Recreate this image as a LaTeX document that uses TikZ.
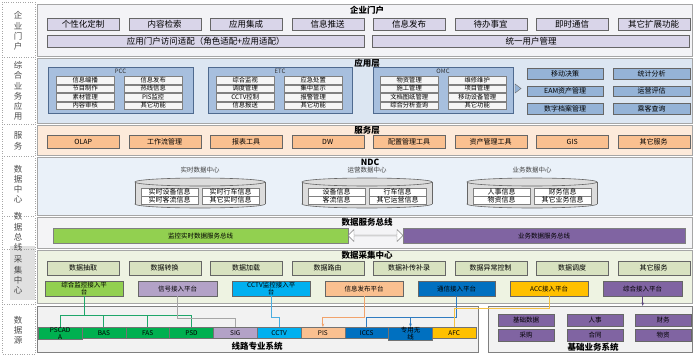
\documentclass[tikz,border=0pt]{standalone}
\usepackage{fontspec}
\setmainfont{Noto Sans CJK SC}
\usetikzlibrary{arrows.meta, positioning, shapes.arrows}

\definecolor{portalband}{HTML}{F3F3F6}
\definecolor{portalbtn}{HTML}{D9D5E9}
\definecolor{appband}{HTML}{DCE6F2}
\definecolor{groupfill}{HTML}{A7BFDE}
\definecolor{groupdraw}{HTML}{4F6A8F}
\definecolor{appbtn}{HTML}{95B3D7}
\definecolor{srvband}{HTML}{FDEADA}
\definecolor{srvbtn}{HTML}{FAC090}
\definecolor{dcband}{HTML}{EAF1F9}
\definecolor{cylfill}{HTML}{DCDCDC}
\definecolor{busband}{HTML}{F4F4F6}
\definecolor{busgreen}{HTML}{92D050}
\definecolor{buspurple}{HTML}{8064A2}
\definecolor{colband}{HTML}{EEF3E2}
\definecolor{colbtn}{HTML}{D8E2C0}
\definecolor{srcband}{HTML}{F2F2F2}
\definecolor{pfgreen}{HTML}{92D050}
\definecolor{pflav}{HTML}{B3A2C7}
\definecolor{pfcyan}{HTML}{00B0F0}
\definecolor{pfpeach}{HTML}{FAC090}
\definecolor{pfblue}{HTML}{0070C0}
\definecolor{pfgold}{HTML}{FFC000}
\definecolor{pfpurple}{HTML}{8064A2}
\definecolor{srcgreen}{HTML}{00B050}
\definecolor{linegreen}{HTML}{1FA66A}
\definecolor{linecyan}{HTML}{4AAEE0}
\definecolor{linepeach}{HTML}{F2A36B}
\definecolor{lineblue}{HTML}{2F7BC0}
\definecolor{linegold}{HTML}{F5C242}
\definecolor{linepurple}{HTML}{5F4A7E}

\begin{document}
\begin{tikzpicture}[x=1pt, y=-1pt,
    % Layer and box styles
    cell/.style 2 args={anchor=north west, minimum width=#1pt, minimum height=#2pt, inner sep=0pt},
    band/.style={draw=black!35},
    layertitle/.style={font=\fontsize{8.5}{9}\selectfont\bfseries},
    sidelabel/.style={align=center, font=\fontsize{8.5}{10.2}\selectfont, text=black!70},
    portalbtn/.style={draw=black!60, fill=portalbtn, font=\fontsize{8.5}{9}\selectfont},
    groupbox/.style={draw=groupdraw, fill=groupfill, line width=0.8pt},
    grouptitle/.style={font=\fontsize{6}{6}\selectfont, text=black!80},
    itembox/.style={draw=black!50, fill=white!96!black, font=\fontsize{6.3}{6.5}\selectfont},
    appbtn/.style={draw=black!60, fill=appbtn, font=\fontsize{7}{7}\selectfont},
    srvbtn/.style={draw=black!60, fill=srvbtn, font=\fontsize{7}{7}\selectfont},
    cylline/.style={draw=black!60, fill=cylfill, line width=0.6pt},
    dclabel/.style={font=\fontsize{6.5}{7}\selectfont, text=black!75},
    dcitem/.style={draw=black!50, fill=white, font=\fontsize{7}{7}\selectfont},
    busbar/.style={draw=black!50, font=\fontsize{6.5}{7}\selectfont},
    colbtn/.style={draw=black!60, fill=colbtn, font=\fontsize{7}{7}\selectfont},
    platform/.style={draw=black!60, font=\fontsize{6.5}{7}\selectfont, align=center},
    srcitem/.style={draw=black!55, font=\fontsize{6.5}{7}\selectfont, align=center},
    bizitem/.style={draw=black!60, fill=pfpurple, font=\fontsize{6.5}{7}\selectfont},
    link/.style={line width=1pt},
    tip/.style={-{Stealth[length=3.5pt]}},
]
\useasboundingbox (0,0) rectangle (696,356);

% ============ Left label column ============
\fill[black!12] (10,246) rectangle (35,300);
\draw[black!35, dotted] (2,2) rectangle (35,354);
\foreach \yy in {57,124,156,216,249,304}
    \draw[black!35, dotted] (2,\yy) -- (35,\yy);

\node[sidelabel] (lbportal) at (18,31) {企\\业\\门\\户};
\node[sidelabel] (lbapp) at (18,91) {综\\合\\业\\务\\应\\用};
\node[sidelabel] (lbsrv) at (18,141) {服\\务};
\node[sidelabel] (lbdc) at (18,184) {数\\据\\中\\心};
\node[sidelabel] (lbbus) at (18,232) {数\\据\\总\\线};
\node[sidelabel] (lbcol) at (18,275) {采\\集\\中\\心};
\node[sidelabel] (lbsrc) at (18,330) {数\\据\\源};

% ============ Enterprise portal ============
\node[band, cell={655}{52}, fill=portalband] (portal) at (37,4) {};
\node[layertitle] (portalttl) at (367,10) {企业门户};
\foreach \t [count=\i] in {个性化定制,内容检索,应用集成,信息推送,信息发布,待办事宜,即时通信,其它扩展功能}
    \node[cell={72}{12}, portalbtn] (pb\i) at ({47+81.5*(\i-1)},18) {\t};
\node[cell={317}{12}, portalbtn] (adapt) at (47,35) {应用门户访问适配（角色适配+应用适配）};
\node[cell={317}{12}, portalbtn, right=8pt of adapt] (usermgr) {统一用户管理};

% ============ Application layer ============
\node[band, cell={655}{65}, fill=appband] (app) at (37,58) {};
\node[layertitle] (appttl) at (367,63) {应用层};

\node[cell={145}{46}, groupbox] (pcc) at (48,67) {};
\node[grouptitle] (pccttl) at (120.5,71) {PCC};
\foreach \a/\b [count=\r] in {信息编播/信息发布, 节目制作/热线信息, 素材管理/PIS监控, 内容审核/其它功能} {
    \node[cell={58}{7.5}, itembox] (pccL\r) at (56,{76+8.5*(\r-1)}) {\a};
    \node[cell={58}{7.5}, itembox] (pccR\r) at (124,{76+8.5*(\r-1)}) {\b};
}

\node[cell={144}{46}, groupbox] (etc) at (208,67) {};
\node[grouptitle] (etcttl) at (280,71) {ETC};
\foreach \a/\b [count=\r] in {综合监视/应急处置, 调度管理/集中显示, CCTV控制/报警管理, 信息报送/其它功能} {
    \node[cell={58}{7.5}, itembox] (etcL\r) at (216,{76+8.5*(\r-1)}) {\a};
    \node[cell={58}{7.5}, itembox] (etcR\r) at (284,{76+8.5*(\r-1)}) {\b};
}

\node[cell={140}{46}, groupbox] (omc) at (373,67) {};
\node[grouptitle] (omcttl) at (443,71) {OMC};
\foreach \a/\b [count=\r] in {物资管理/维修维护, 施工管理/项目管理, 文档图纸管理/移动设备管理, 综合分析查询/其它功能} {
    \node[cell={58}{7.5}, itembox] (omcL\r) at (380,{76+8.5*(\r-1)}) {\a};
    \node[cell={58}{7.5}, itembox] (omcR\r) at (448,{76+8.5*(\r-1)}) {\b};
}

\fill[appbtn] (515,84) -- (521,88.5) -- (515,93) -- cycle;
\foreach \a/\b [count=\r] in {移动决策/统计分析, EAM资产管理/运营评估, 数字档案管理/乘客查询} {
    \node[cell={76}{10.5}, appbtn] (appL\r) at (527,{68+17.5*(\r-1)}) {\a};
    \node[cell={77}{10.5}, appbtn] (appR\r) at (613,{68+17.5*(\r-1)}) {\b};
}

% ============ Service layer ============
\node[band, cell={655}{30}, fill=srvband] (srv) at (37,125) {};
\node[layertitle] (srvttl) at (367,130) {服务层};
\foreach \t [count=\i] in {OLAP,工作流管理,报表工具,DW,配置管理工具,资产管理工具,GIS,其它服务}
    \node[cell={72}{13}, srvbtn] (sb\i) at ({47+81.5*(\i-1)},135) {\t};

% ============ Data center (NDC) ============
\node[band, cell={655}{58}, fill=dcband] (dc) at (37,157) {};
\node[layertitle] (ndcttl) at (370,162) {NDC};
\foreach \n/\cx/\lbl/\a/\b/\c/\d in {rt/200/实时数据中心/实时设备信息/实时行车信息/实时客流信息/其它实时信息,
        op/367/运营数据中心/设备信息/行车信息/客流信息/其它运营信息,
        bz/532/业务数据中心/人事信息/财务信息/物资信息/其它业务信息} {
    \node[dclabel] (\n-lbl) at (\cx,170) {\lbl};
    \node[cell={130}{30}] (\n-cyl) at ({\cx-65},178) {};
    % database cylinder
    \draw[cylline] (\cx,204) ellipse [x radius=65pt, y radius=4pt];
    \fill[cylfill] ({\cx-65},182) rectangle ({\cx+65},204);
    \draw[black!60, line width=0.6pt] ({\cx-65},182) -- ({\cx-65},204) ({\cx+65},182) -- ({\cx+65},204);
    \draw[cylline] (\cx,182) ellipse [x radius=65pt, y radius=4pt];
    \node[cell={57}{7.5}, dcitem] (\n-a) at ({\cx-59},188) {\a};
    \node[cell={57}{7.5}, dcitem] (\n-b) at ({\cx+2},188) {\b};
    \node[cell={57}{7.5}, dcitem] (\n-c) at ({\cx-59},196) {\c};
    \node[cell={57}{7.5}, dcitem] (\n-d) at ({\cx+2},196) {\d};
}

% ============ Data service bus ============
\node[band, cell={655}{31}, fill=busband] (bus) at (37,217) {};
\node[layertitle] (busttl) at (367,222) {数据服务总线};
\node[cell={295}{15}, busbar, fill=busgreen] (rtbus) at (53,228) {监控实时数据服务总线};
\node[cell={282}{15}, busbar, fill=buspurple] (bzbus) at (403,228) {业务数据服务总线};
\node[double arrow, draw=black!50, fill=white, minimum height=55pt, minimum width=12pt,
    double arrow head extend=2pt, inner sep=0pt] (busarrow) at (375.5,235.5) {};

% ============ Data collection center ============
\node[band, cell={655}{53}, fill=colband] (col) at (37,250) {};
\node[layertitle] (colttl) at (367,255.5) {数据采集中心};
\foreach \t [count=\i] in {数据抽取,数据转换,数据加载,数据路由,数据补传补录,数据异常控制,数据调度,其它服务}
    \node[cell={72}{13.5}, colbtn] (cb\i) at ({47+81.5*(\i-1)},261) {\t};
\foreach \n/\px/\w/\c/\t in {zh/45/78/pfgreen/{综合监控接入平\\台}, sig/138/79/pflav/信号接入平台,
        cctv/232/78/pfcyan/{CCTV监控接入平\\台}, pis/325/78/pfpeach/信息发布平台,
        comm/418/77/pfblue/通信接入平台, acc/510/78/pfgold/ACC接入平台, all/603/79/pfpurple/综合接入平台}
    \node[cell={\w}{15}, platform, fill=\c] (pf\n) at (\px,281) {\t};

% ============ Data sources ============
\node[band, cell={441}{46}, fill=srcband, draw=black!50] (srcline) at (37,306) {};
\node[band, cell={204}{46}, fill=srcband, draw=black!50] (srcbiz) at (488,306) {};
\node[layertitle] (srclinettl) at (257,346) {线路专业系统};
\node[layertitle] (srcbizttl) at (593,347.5) {基础业务系统};
\foreach \n/\t/\c [count=\i] in {pscada/{PSCAD\\A}/srcgreen, bas/BAS/srcgreen, fas/FAS/srcgreen, psd/PSD/srcgreen,
        sig/SIG/pflav, cctv/CCTV/pfcyan, pis/PIS/pfpeach, iccs/ICCS/pfblue, wl/{专用无\\线}/pfblue, afc/AFC/pfgold}
    \node[cell={43.8}{11}, srcitem, fill=\c] (s\n) at ({38+43.8*(\i-1)},327) {\t};
\foreach \t/\bx/\by [count=\i] in {基础数据/498/314, 人事/567/314, 财务/635/314, 采购/498/328.5, 合同/567/328.5, 物资/635/328.5}
    \node[cell={56}{12}, bizitem] (biz\i) at (\bx,\by) {\t};

% ============ Source to platform links ============
\foreach \n in {pscada,bas,fas,psd}
    \draw[link, linegreen] (s\n.north) -- ++(0,-12) -| (pfzh.south);
\draw[link, black!35] (pfsig.south) -- ++(0,22) -| (ssig.north);
\draw[link, linecyan] (pfcctv.south) -- ++(0,21) -| (scctv.north);
\draw[link, linepeach, tip] (pfpis.south) -- ++(0,21) -| (spis.north);
\draw[link, lineblue] (pfcomm.south) -- ++(0,21) -| (siccs.north);
\draw[link, lineblue, tip] (pfcomm.south) -- ++(0,21) -| (swl.north);
\draw[link, linegold] (pfacc.south) -- ++(0,12) -| (safc.north);
\draw[link, linepurple, tip] (pfall.south) -- (pfall.south |- srcbiz.north);

\end{tikzpicture}
\end{document}
